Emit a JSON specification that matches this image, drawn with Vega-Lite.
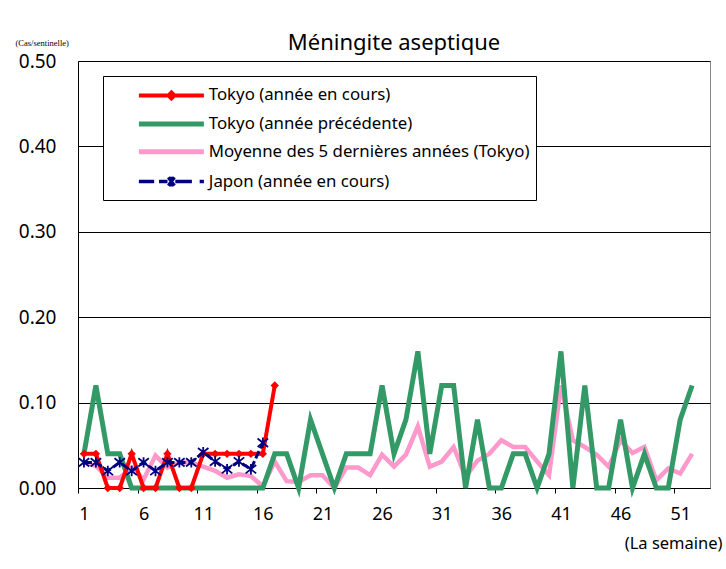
{
  "$schema": "https://vega.github.io/schema/vega-lite/v6.json",
  "autosize": "none",
  "width": 632,
  "height": 427,
  "padding": {"left": 78, "top": 61, "right": 16, "bottom": 81},
  "background": "white",
  "title": {"text": "Méningite aseptique", "fontSize": 22, "font": "Noto Sans", "fontWeight": "normal", "offset": -17, "color": "#000"},
  "config": {
    "font": "Noto Sans",
    "view": {"stroke": "#888", "strokeWidth": 1},
    "axis": {"labelColor": "#000", "titleColor": "#000", "domainColor": "#000", "tickColor": "#000"}
  },
  "data": {"values": [
    {"week":1,"series":"A","value":0.04},{"week":2,"series":"A","value":0.04},{"week":3,"series":"A","value":0},{"week":4,"series":"A","value":0},{"week":5,"series":"A","value":0.04},{"week":6,"series":"A","value":0},{"week":7,"series":"A","value":0},{"week":8,"series":"A","value":0.04},{"week":9,"series":"A","value":0},{"week":10,"series":"A","value":0},{"week":11,"series":"A","value":0.04},{"week":12,"series":"A","value":0.04},{"week":13,"series":"A","value":0.04},{"week":14,"series":"A","value":0.04},{"week":15,"series":"A","value":0.04},{"week":16,"series":"A","value":0.04},{"week":17,"series":"A","value":0.12},
    {"week":1,"series":"B","value":0.04},{"week":2,"series":"B","value":0.12},{"week":3,"series":"B","value":0.04},{"week":4,"series":"B","value":0.04},{"week":5,"series":"B","value":0},{"week":6,"series":"B","value":0},{"week":7,"series":"B","value":0},{"week":8,"series":"B","value":0},{"week":9,"series":"B","value":0},{"week":10,"series":"B","value":0},{"week":11,"series":"B","value":0},{"week":12,"series":"B","value":0},{"week":13,"series":"B","value":0},{"week":14,"series":"B","value":0},{"week":15,"series":"B","value":0},{"week":16,"series":"B","value":0},{"week":17,"series":"B","value":0.04},{"week":18,"series":"B","value":0.04},{"week":19,"series":"B","value":0},{"week":20,"series":"B","value":0.08},{"week":21,"series":"B","value":0.04},{"week":22,"series":"B","value":0},{"week":23,"series":"B","value":0.04},{"week":24,"series":"B","value":0.04},{"week":25,"series":"B","value":0.04},{"week":26,"series":"B","value":0.12},{"week":27,"series":"B","value":0.04},{"week":28,"series":"B","value":0.08},{"week":29,"series":"B","value":0.16},{"week":30,"series":"B","value":0.04},{"week":31,"series":"B","value":0.12},{"week":32,"series":"B","value":0.12},{"week":33,"series":"B","value":0},{"week":34,"series":"B","value":0.08},{"week":35,"series":"B","value":0},{"week":36,"series":"B","value":0},{"week":37,"series":"B","value":0.04},{"week":38,"series":"B","value":0.04},{"week":39,"series":"B","value":0},{"week":40,"series":"B","value":0.04},{"week":41,"series":"B","value":0.16},{"week":42,"series":"B","value":0},{"week":43,"series":"B","value":0.12},{"week":44,"series":"B","value":0},{"week":45,"series":"B","value":0},{"week":46,"series":"B","value":0.08},{"week":47,"series":"B","value":0},{"week":48,"series":"B","value":0.04},{"week":49,"series":"B","value":0},{"week":50,"series":"B","value":0},{"week":51,"series":"B","value":0.08},{"week":52,"series":"B","value":0.12},
    {"week":1,"series":"C","value":0.03},{"week":2,"series":"C","value":0.026},{"week":3,"series":"C","value":0.012},{"week":4,"series":"C","value":0.012},{"week":5,"series":"C","value":0.024},{"week":6,"series":"C","value":0.01},{"week":7,"series":"C","value":0.038},{"week":8,"series":"C","value":0.024},{"week":9,"series":"C","value":0.03},{"week":10,"series":"C","value":0.03},{"week":11,"series":"C","value":0.025},{"week":12,"series":"C","value":0.02},{"week":13,"series":"C","value":0.012},{"week":14,"series":"C","value":0.016},{"week":15,"series":"C","value":0.014},{"week":16,"series":"C","value":0.002},{"week":17,"series":"C","value":0.031},{"week":18,"series":"C","value":0.008},{"week":19,"series":"C","value":0.007},{"week":20,"series":"C","value":0.015},{"week":21,"series":"C","value":0.015},{"week":22,"series":"C","value":0},{"week":23,"series":"C","value":0.024},{"week":24,"series":"C","value":0.024},{"week":25,"series":"C","value":0.015},{"week":26,"series":"C","value":0.039},{"week":27,"series":"C","value":0.025},{"week":28,"series":"C","value":0.039},{"week":29,"series":"C","value":0.072},{"week":30,"series":"C","value":0.025},{"week":31,"series":"C","value":0.031},{"week":32,"series":"C","value":0.048},{"week":33,"series":"C","value":0.013},{"week":34,"series":"C","value":0.032},{"week":35,"series":"C","value":0.04},{"week":36,"series":"C","value":0.056},{"week":37,"series":"C","value":0.048},{"week":38,"series":"C","value":0.048},{"week":39,"series":"C","value":0.031},{"week":40,"series":"C","value":0.015},{"week":41,"series":"C","value":0.12},{"week":42,"series":"C","value":0.056},{"week":43,"series":"C","value":0.048},{"week":44,"series":"C","value":0.039},{"week":45,"series":"C","value":0.025},{"week":46,"series":"C","value":0.056},{"week":47,"series":"C","value":0.041},{"week":48,"series":"C","value":0.048},{"week":49,"series":"C","value":0.009},{"week":50,"series":"C","value":0.023},{"week":51,"series":"C","value":0.017},{"week":52,"series":"C","value":0.04},
    {"week":1,"series":"D","value":0.03},{"week":2,"series":"D","value":0.03},{"week":3,"series":"D","value":0.02},{"week":4,"series":"D","value":0.03},{"week":5,"series":"D","value":0.02},{"week":6,"series":"D","value":0.03},{"week":7,"series":"D","value":0.02},{"week":8,"series":"D","value":0.03},{"week":9,"series":"D","value":0.03},{"week":10,"series":"D","value":0.03},{"week":11,"series":"D","value":0.042},{"week":12,"series":"D","value":0.031},{"week":13,"series":"D","value":0.022},{"week":14,"series":"D","value":0.031},{"week":15,"series":"D","value":0.022},{"week":16,"series":"D","value":0.053}
  ]},
  "transform": [
    {"calculate": "{'A':'Tokyo (année en cours)','B':'Tokyo (année précédente)','C':'Moyenne des 5 dernières années (Tokyo)','D':'Japon (année en cours)'}[datum.series]", "as": "Série"}
  ],
  "encoding": {
    "x": {"field": "week", "type": "ordinal",
      "scale": {"type": "point", "padding": 0.5, "domain": [1,2,3,4,5,6,7,8,9,10,11,12,13,14,15,16,17,18,19,20,21,22,23,24,25,26,27,28,29,30,31,32,33,34,35,36,37,38,39,40,41,42,43,44,45,46,47,48,49,50,51,52,53]},
      "axis": {"values": [1,6,11,16,21,26,31,36,41,46,51], "labelAngle": 0, "labelFontSize": 18, "labelPadding": 12, "tickSize": 5, "tickOffset": -6, "labelOffset": 6, "grid": false,
        "encode": {"ticks": {"update": {"y2": {"value": -5}}}},
        "title": "(La semaine)", "titleFontSize": 16.5, "titleFontWeight": "normal", "titleAlign": "right", "titleAnchor": "start", "titleX": 644, "titleY": 55, "titleBaseline": "middle"}},
    "y": {"field": "value", "type": "quantitative",
      "scale": {"domain": [0, 0.5], "nice": false, "zero": true},
      "axis": {"values": [0,0.1,0.2,0.3,0.4,0.5], "format": ".2f", "labelFontSize": 19, "labelPadding": 22, "ticks": false, "grid": true, "gridColor": "#000", "gridWidth": 1, "gridOpacity": 1,
        "title": "(Cas/sentinelle)", "titleAngle": 0, "titleFont": "Liberation Sans Narrow", "titleFontSize": 8.5, "titleFontWeight": "normal", "titleAlign": "left", "titleBaseline": "middle", "titleX": -63, "titleY": -19}}
  },
  "layer": [
    {"transform": [{"filter": "datum.series === 'C'"}], "mark": {"type": "line", "strokeWidth": 4.5, "strokeJoin": "miter"},
      "encoding": {"color": {"field": "Série", "type": "nominal",
        "scale": {"domain": ["Tokyo (année en cours)","Tokyo (année précédente)","Moyenne des 5 dernières années (Tokyo)","Japon (année en cours)"], "range": ["#FF0000","#339966","#FF99CC","#000080"]},
        "legend": {"title": " ", "titleFontSize": 1, "titlePadding": 4, "orient": "none", "legendX": 25, "legendY": 15, "direction": "vertical",
          "strokeColor": "#000", "fillColor": "#fff", "padding": 6, "symbolOffset": 54, "symbolType": "stroke", "symbolSize": 4225, "symbolStrokeWidth": 4.5,
          "labelFontSize": 16.8, "labelFont": "Noto Sans", "labelColor": "#000", "labelOffset": 29, "rowPadding": 6.7, "labelLimit": 400,
          "encode": {
            "symbols": {"update": {
            "shape": {"signal": "datum.value === 'Tokyo (année en cours)' ? 'M-1,0L1,0M0,-0.09L0.09,0L0,0.09L-0.09,0Z' : datum.value === 'Japon (année en cours)' ? 'M-1,0L-0.53,0M-0.38,0L-0.12,0M0.12,0L0.63,0M0.87,0L1,0M-0.09,-0.13L0.09,0.13M0.09,-0.13L-0.09,0.13M0,-0.15L0,0.15' : 'stroke'"},
            "fill": {"signal": "datum.value === 'Tokyo (année en cours)' ? '#FF0000' : 'transparent'"},
            "strokeWidth": {"signal": "datum.value === 'Japon (année en cours)' ? 3.5 : datum.value === 'Tokyo (année en cours)' ? 4 : 5"}
          }}}}}}},
    {"transform": [{"filter": "datum.series === 'B'"}], "mark": {"type": "line", "strokeWidth": 5, "strokeJoin": "miter"},
      "encoding": {"color": {"field": "Série", "type": "nominal"}}},
    {"transform": [{"filter": "datum.series === 'A'"}], "mark": {"type": "line", "strokeWidth": 4},
      "encoding": {"color": {"field": "Série", "type": "nominal"}}},
    {"transform": [{"filter": "datum.series === 'A'"}], "mark": {"type": "point", "shape": "diamond", "filled": true, "color": "#FF0000", "size": 70, "opacity": 1}},
    {"transform": [{"filter": "datum.series === 'D'"}], "mark": {"type": "line", "strokeWidth": 3, "strokeDash": [8, 3]},
      "encoding": {"color": {"field": "Série", "type": "nominal"}}},
    {"transform": [{"filter": "datum.series === 'D'"}], "mark": {"type": "point", "shape": "M-1,-0.8L1,0.8M1,-0.8L-1,0.8M0,-1L0,1", "filled": false, "color": "#000080", "size": 110, "strokeWidth": 1.8, "opacity": 1}}
  ]
}
